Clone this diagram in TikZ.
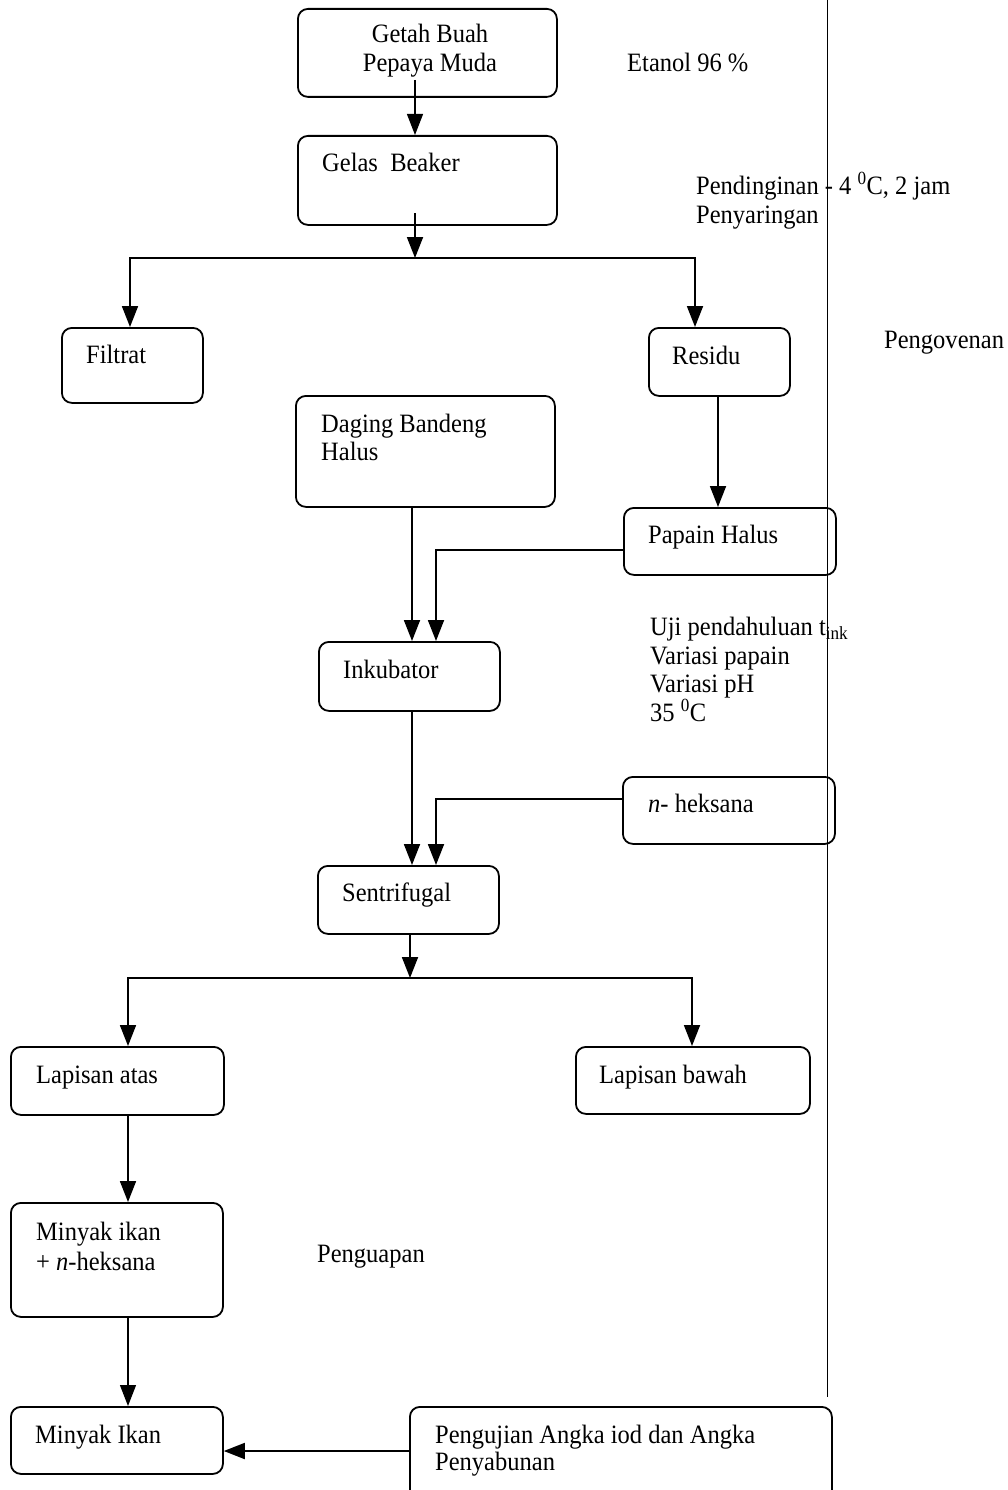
\documentclass[tikz,border=0pt]{standalone}
\usepackage{fontspec}
\setmainfont{Liberation Serif}[FakeStretch=0.925]
\usetikzlibrary{arrows.meta}
\begin{document}
\begin{tikzpicture}[x=1pt,y=-1pt,
  box/.style={draw,line width=1.8pt,rounded corners=10pt,inner sep=0pt,anchor=north west},
  txt/.style={inner sep=0pt,anchor=base west,font=\fontsize{26.5}{28.7}\selectfont,align=left},
  arr/.style={line width=1.8pt,-{Triangle[length=21pt,width=16pt]}},
  thinarr/.style={line width=1.2pt,-{Triangle[length=21pt,width=16pt]}}]
\clip (0,0) rectangle (1008,1490);
% boxes
\node[box,minimum width=259pt,minimum height=88pt] (getah) at (297,8) {};
\node[box,minimum width=259pt,minimum height=89pt] (gelas) at (297,135) {};
\node[box,minimum width=141pt,minimum height=75pt] (filtrat) at (61,327) {};
\node[box,minimum width=141pt,minimum height=68pt] (residu) at (648,327) {};
\node[box,minimum width=259pt,minimum height=111pt] (daging) at (295,395) {};
\node[box,minimum width=212pt,minimum height=67pt] (papain) at (623,507) {};
\node[box,minimum width=181pt,minimum height=69pt] (inkub) at (318,641) {};
\node[box,minimum width=212pt,minimum height=67pt] (heks) at (622,776) {};
\node[box,minimum width=181pt,minimum height=68pt] (sentri) at (317,865) {};
\node[box,minimum width=213pt,minimum height=68pt] (latas) at (10,1046) {};
\node[box,minimum width=234pt,minimum height=67pt] (lbawah) at (575,1046) {};
\node[box,minimum width=212pt,minimum height=114pt] (mik1) at (10,1202) {};
\node[box,minimum width=212pt,minimum height=67pt] (mik2) at (10,1406) {};
\node[box,minimum width=422pt,minimum height=100pt] (uji) at (409,1406) {};
% texts in boxes
\node[txt,anchor=base,align=center] (getahT) at (430,43) {Getah Buah};
\node[txt,anchor=base,align=center] (getahT2) at (430,72) {Pepaya Muda};
\node[txt] (gelasT) at (322,172) {Gelas\ \ Beaker};
\node[txt] (filtratT) at (86,363) {Filtrat};
\node[txt] (residuT) at (672,364) {Residu};
\node[txt] (dagingT) at (321,432) {Daging Bandeng};
\node[txt] (dagingT2) at (321,460) {Halus};
\node[txt] (papainT) at (648,543) {Papain Halus};
\node[txt] (inkubT) at (343,678) {Inkubator};
\node[txt] (heksT) at (648,812) {\textit{n}- heksana};
\node[txt] (sentriT) at (342,901) {Sentrifugal};
\node[txt] (latasT) at (36,1083) {Lapisan atas};
\node[txt] (lbawahT) at (599,1083) {Lapisan bawah};
\node[txt] (mik1T) at (36,1240) {Minyak ikan};
\node[txt] (mik1T2) at (36,1270) {+ \textit{n}-heksana};
\node[txt] (mik2T) at (35,1443) {Minyak Ikan};
\node[txt] (ujiT) at (435,1443) {Pengujian Angka iod dan Angka};
\node[txt] (ujiT2) at (435,1470) {Penyabunan};
% side labels
\node[txt] (etanol) at (627,72) {Etanol 96 \%};
\node[txt] (pend) at (696,194) {Pendinginan - 4 \textsuperscript{0}C, 2 jam};
\node[txt] (peny) at (696,223) {Penyaringan};
\node[txt] (oven) at (884,348) {Pengovenan};
\node[txt] (uji1) at (650,635) {Uji pendahuluan t\textsubscript{ink}};
\node[txt] (uji2) at (650,664) {Variasi papain};
\node[txt] (uji3) at (650,692) {Variasi pH};
\node[txt] (uji4) at (650,721) {35 \textsuperscript{0}C};
\node[txt] (uap) at (317,1262) {Penguapan};
% divider
\draw[line width=0.8pt] (827,0) -- (827,1397);
% connectors
\coordinate (br1) at (415,258);
\coordinate (br2) at (410,978);
\draw[thinarr] (415,80) -- (415,0 |- gelas.north);
\draw[arr] (415,213) -- (br1);
\draw[arr] (br1) -| (130,0 |- filtrat.north);
\draw[arr] (br1) -| (695,0 |- residu.north);
\draw[arr] (718,0 |- residu.south) -- (718,0 |- papain.north);
\draw[arr] (412,0 |- daging.south) -- (412,0 |- inkub.north);
\draw[arr] (papain.west |- 0,550) -| (436,0 |- inkub.north);
\draw[arr] (412,0 |- inkub.south) -- (412,0 |- sentri.north);
\draw[arr] (heks.west |- 0,799) -| (436,0 |- sentri.north);
\draw[arr] (410,0 |- sentri.south) -- (br2);
\draw[arr] (br2) -| (128,0 |- latas.north);
\draw[arr] (br2) -| (692,0 |- lbawah.north);
\draw[arr] (128,0 |- latas.south) -- (128,0 |- mik1.north);
\draw[thinarr] (128,0 |- mik1.south) -- (128,0 |- mik2.north);
\draw[arr] (uji.west |- 0,1451) -- (mik2.east |- 0,1451);
\end{tikzpicture}
\end{document}
